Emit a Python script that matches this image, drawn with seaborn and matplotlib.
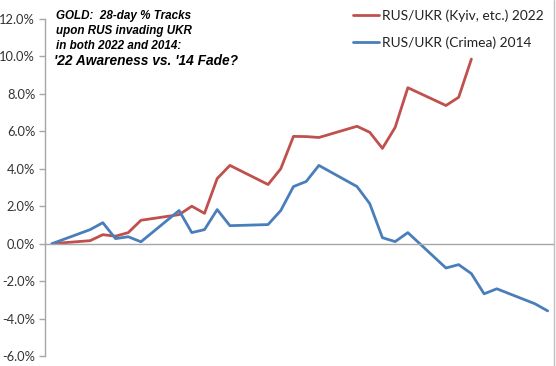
import matplotlib
matplotlib.use("Agg")
import matplotlib.pyplot as plt
import matplotlib.ticker as mticker
from matplotlib.lines import Line2D
import seaborn as sns
import pandas as pd
import numpy as np

# ---- data ----
days = [0, 3, 4, 5, 6, 7, 10, 11, 12, 13, 14, 17, 18, 19, 20, 21,
        24, 25, 26, 27, 28, 31, 32, 33, 34, 35, 38, 39]
red_2022 = [0.00, 0.16, 0.48, 0.40, 0.59, 1.25, 1.55, 2.00, 1.62, 3.48, 4.18, 3.16,
            4.00, 5.73, 5.72, 5.67, 6.27, 5.95, 5.09, 6.21, 8.33, 7.38, 7.82, 9.86,
            None, None, None, None]
blue_2014 = [0.00, 0.75, 1.12, 0.27, 0.37, 0.10, 1.77, 0.59, 0.75, 1.82, 0.96, 1.02,
             1.77, 3.05, 3.32, 4.18, 3.05, 2.14, 0.32, 0.11, 0.59, -1.30, -1.12, -1.60,
             -2.68, -2.41, -3.21, -3.59]
series_names = ["RUS/UKR (Kyiv, etc.) 2022", "RUS/UKR (Crimea) 2014"]
series_colors = ["#C0504D", "#4A7EBB"]
y_ticks = [-6, -4, -2, 0, 2, 4, 6, 8, 10, 12]
title_lines = ["GOLD:  28-day % Tracks", "upon RUS invading UKR", "in both 2022 and 2014:"]
title_last = "'22 Awareness vs. '14 Fade?"

df = pd.concat([
    pd.DataFrame({"day": days, "pct": red_2022, "series": series_names[0]}),
    pd.DataFrame({"day": days, "pct": blue_2014, "series": series_names[1]}),
]).dropna()
df["pct"] = df["pct"].astype(float)

sns.set_theme(style="white")
plt.rcParams["font.family"] = ["Lato", "DejaVu Sans"]

fig = plt.figure(figsize=(5.56, 3.66), dpi=100)
ax = fig.add_axes([45/556, 1-356/366, (554-45)/556, (356-19)/366])

sns.lineplot(data=df, x="day", y="pct", hue="series", hue_order=series_names,
             palette=series_colors, linewidth=2.0, ax=ax, legend=False, sort=True)

ax.set_xlim(-0.55, 39.5)
ax.set_ylim(-6, 12)
ax.set_yticks(y_ticks)
ax.yaxis.set_major_formatter(mticker.FuncFormatter(lambda v, p: f"{v:.1f}%"))
ax.set_xticks([])
ax.set_xlabel("")
ax.set_ylabel("")

grey = "#A6A6A6"
for s in ["top", "right"]:
    ax.spines[s].set_visible(False)
ax.spines["bottom"].set_position(("data", 0))
ax.spines["bottom"].set_color(grey)
ax.spines["left"].set_color(grey)
ax.spines["bottom"].set_linewidth(1.0)
ax.spines["left"].set_linewidth(1.0)
ax.tick_params(axis="y", which="major", direction="out", length=4, width=1,
               color=grey, labelsize=9.3, labelcolor="#333333", pad=3, left=True)

# legend
handles = [Line2D([0], [0], color=c, lw=2.0) for c in series_colors]
fig.legend(handles, series_names, loc="upper right", bbox_to_anchor=(553/556, 0.998),
           frameon=False, fontsize=9.9, handlelength=1.9, handletextpad=0.25,
           labelspacing=1.0, borderaxespad=0.35, borderpad=0.3,
           labelcolor="#222222")

# title text
for i, line in enumerate(title_lines):
    fig.text(56/556, 1 - (16 + 15*i)/366, line, ha="left", va="center",
             fontsize=8.4, fontweight="bold", fontstyle="italic",
             family=["Liberation Sans", "DejaVu Sans"], color="black")
fig.text(54/556, 1 - 61/366, title_last, ha="left", va="center",
         fontsize=9.9, fontweight="bold", fontstyle="italic",
         family=["Liberation Sans", "DejaVu Sans"], color="black")

# chart border on the right edge
fig.add_artist(Line2D([554/556, 554/556], [0, 1], transform=fig.transFigure,
                      color="#BFBFBF", lw=1))

fig.savefig("out.png", dpi=100)
